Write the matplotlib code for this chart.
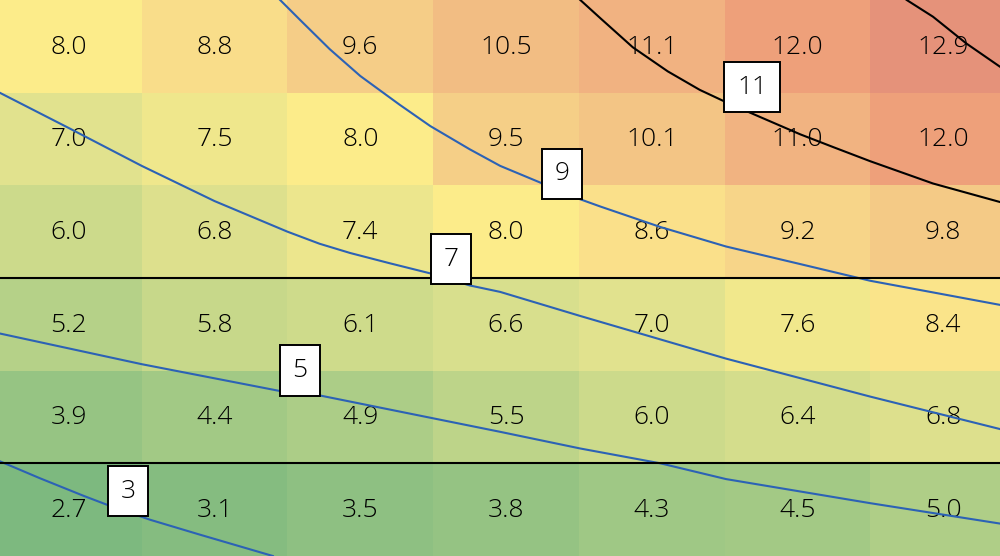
import numpy as np
import matplotlib
matplotlib.use("Agg")
import matplotlib.pyplot as plt
from matplotlib.colors import LinearSegmentedColormap, Normalize

plt.rcParams['font.family'] = ['Open Sans', 'DejaVu Sans']

# cell values, top row first
row0 = [8.0, 8.8, 9.6, 10.5, 11.1, 12.0, 12.9]
row1 = [7.0, 7.5, 8.0, 9.5, 10.1, 11.0, 12.0]
row2 = [6.0, 6.8, 7.4, 8.0, 8.6, 9.2, 9.8]
row3 = [5.2, 5.8, 6.1, 6.6, 7.0, 7.6, 8.4]
row4 = [3.9, 4.4, 4.9, 5.5, 6.0, 6.4, 6.8]
row5 = [2.7, 3.1, 3.5, 3.8, 4.3, 4.5, 5.0]
values = np.array([row0, row1, row2, row3, row4, row5])

# contour lines (x in columns, y in rows from top)
line3_x = [0.0, 0.3, 0.6, 0.8, 1.06, 1.4, 1.9]
line3_y = [4.96, 5.16, 5.35, 5.47, 5.61, 5.77, 6.0]
line5_x = [0.0, 1.0, 1.95, 2.23, 3.46, 4.01, 4.56, 5.01, 6.0, 6.89, 7.0]
line5_y = [3.59, 3.93, 4.22, 4.27, 4.66, 4.84, 5.0, 5.17, 5.43, 5.65, 5.68]
line7_x = [0.0, 0.51, 1.0, 1.5, 2.0, 2.22, 2.43, 2.7, 2.98, 3.25, 3.46, 4.01, 5.01, 6.0, 6.89, 7.0]
line7_y = [0.98, 1.39, 1.79, 2.17, 2.5, 2.63, 2.73, 2.84, 2.95, 3.08, 3.15, 3.41, 3.87, 4.28, 4.63, 4.67]
line9_x = [1.95, 2.09, 2.29, 2.5, 2.77, 2.98, 3.25, 3.46, 3.75, 3.92, 4.15, 4.56, 5.01,
           5.52, 6.0, 6.48, 6.89, 7.0]
line9_y = [0.0, 0.22, 0.53, 0.82, 1.13, 1.36, 1.61, 1.79, 1.98, 2.1, 2.23, 2.45, 2.66,
           2.85, 3.03, 3.17, 3.29, 3.32]
line11_x = [4.01, 4.15, 4.37, 4.61, 4.83, 5.02, 5.24, 5.52, 5.75, 6.0, 6.43, 6.89, 7.0]
line11_y = [0.0, 0.2, 0.51, 0.77, 0.97, 1.11, 1.26, 1.45, 1.59, 1.74, 1.98, 2.18, 2.22]
line13_x = [6.25, 6.43, 6.66, 6.89, 7.0]
line13_y = [0.0, 0.18, 0.47, 0.72, 0.8]
hlines = [3, 5]

labels = ['3', '5', '7', '9', '11']
label_x = [0.906, 2.086, 3.123, 3.885, 5.189]
label_y = [5.3, 4.0, 2.795, 1.875, 0.94]

colors = [(0.0, '#7db97f'), (0.22, '#aece87'), (0.32, '#ccda8b'),
          (0.42, '#e2e28e'), (0.515, '#fcec8a'), (0.61, '#f8d98a'),
          (0.71, '#f3c685'), (0.81, '#f1b381'), (0.905, '#eea07a'),
          (1.0, '#e4917a')]
cmap = LinearSegmentedColormap.from_list('gyr', colors)
norm = Normalize(vmin=2.7, vmax=13.0)

fig = plt.figure(figsize=(10, 5.56), dpi=100)
ax = fig.add_axes([-0.004, 0, 1.02, 1])
ax.pcolormesh(np.arange(8), np.arange(7), values, cmap=cmap, norm=norm)
ax.set_xlim(0, 7)
ax.set_ylim(6, 0)
ax.axis('off')

for r in range(values.shape[0]):
    for c in range(values.shape[1]):
        ax.text(c + 0.5, r + 0.51, f"{values[r, c]:.1f}", ha='center',
                va='center', fontsize=19, fontweight='light',
                color='black', zorder=2)

blue = '#2c62b5'
for xs, ys in [(line3_x, line3_y), (line5_x, line5_y), (line7_x, line7_y), (line9_x, line9_y)]:
    ax.plot(xs, ys, color=blue, lw=1.5, zorder=3)
for xs, ys in [(line11_x, line11_y), (line13_x, line13_y)]:
    ax.plot(xs, ys, color='black', lw=1.5, zorder=3)
for h in hlines:
    ax.axhline(h, color='black', lw=1.5, zorder=3)

for lab, lx, ly in zip(labels, label_x, label_y):
    ax.text(lx, ly, lab, ha='center', va='center', fontsize=19,
            fontweight='light', color='black', zorder=5,
            bbox=dict(boxstyle='square,pad=0.48', facecolor='white',
                      edgecolor='black', lw=1.4))

fig.savefig('out.png', dpi=100)
